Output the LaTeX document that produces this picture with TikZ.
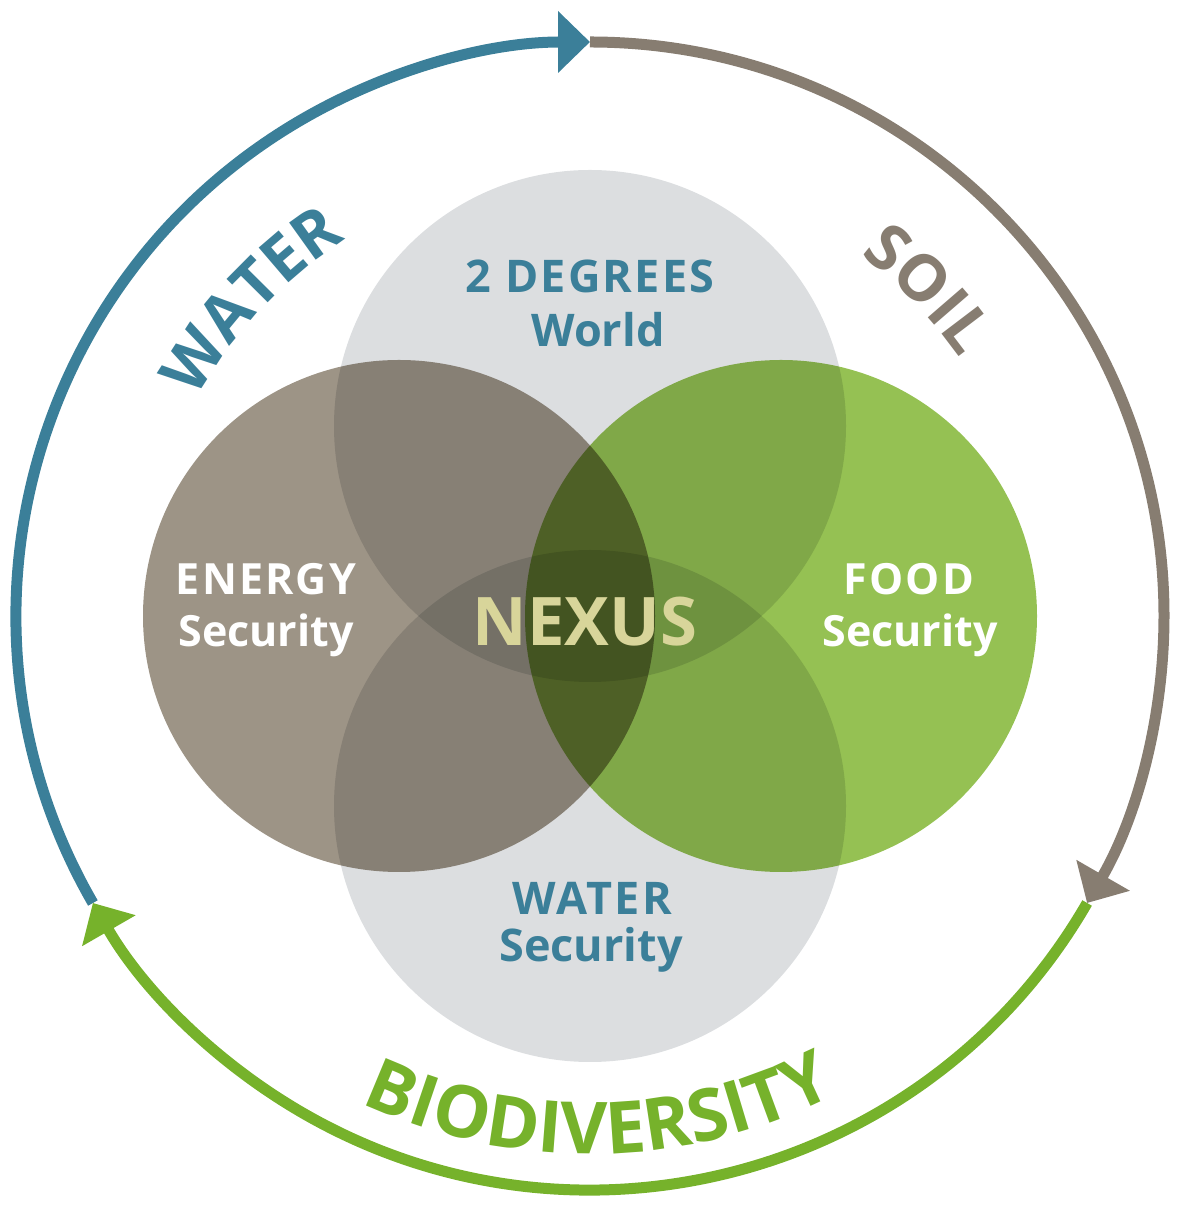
\documentclass[tikz,border=0pt]{standalone}
\usepackage{fontspec}
\setmainfont{Open Sans}
\newfontfamily\capfam{Open Sans}[LetterSpace=5]
\usetikzlibrary{arrows.meta,decorations.text}
\definecolor{ringblue}{RGB}{59,127,153}
\definecolor{ringsoil}{RGB}{135,125,113}
\definecolor{ringgreen}{RGB}{118,178,43}
\definecolor{circgray}{RGB}{220,222,224}
\definecolor{circbrown}{RGB}{157,148,134}
\definecolor{circgreen}{RGB}{149,193,83}
\definecolor{nexuscol}{RGB}{216,213,154}
\newcommand\arcfnt{\bfseries\fontsize{64}{64}\selectfont}
\newcommand\biofnt{\bfseries\fontsize{72}{72}\selectfont}
\tikzset{
  ring/.style={line width=11pt},
  ringtip/.style={-{Triangle[width=60pt,length=32pt]}},
  venn/.style={circle, inner sep=0pt, minimum size=512pt},
  lab/.style={anchor=base, inner sep=0pt, font=\bfseries\fontsize{43}{43}\selectfont},
  caplab/.style={anchor=base, inner sep=0pt, font=\capfam\bfseries\fontsize{43}{43}\selectfont},
  toplab/.style={anchor=base, inner sep=0pt, font=\bfseries\fontsize{45}{45}\selectfont},
  topcap/.style={anchor=base, inner sep=0pt, font=\capfam\bfseries\fontsize{45}{45}\selectfont},
}
\begin{document}
\begin{tikzpicture}[x=1pt,y=1pt]
\useasboundingbox (0,0) rectangle (1180,1208);
\coordinate (O) at (590,592);
% Venn circles
\begin{scope}[blend group=multiply]
  \node[venn, fill=circgray]  (deg)    at (590,782) {};
  \node[venn, fill=circgray]  (water)  at (590,402) {};
  \node[venn, fill=circbrown] (energy) at (399,592) {};
  \node[venn, fill=circgreen] (food)   at (781,592) {};
\end{scope}
% outer ring
\coordinate (pT) at ([shift={(90:574)}]O);
\coordinate (pR) at ([shift={(-30:574)}]O);
\coordinate (pL) at ([shift={(210:574)}]O);
\draw[ring, ringblue, ringtip]  (pL) arc[start angle=210, end angle=90, radius=574];
\draw[ring, ringsoil, ringtip]  (pT) arc[start angle=90, end angle=-30, radius=574];
\draw[ring, ringgreen, ringtip] (pR) arc[start angle=-30, end angle=-150, radius=574];
% ring labels
\path[decorate, decoration={text along path, text align=center,
   text={|\arcfnt\color{ringblue}|WATER}}]
   ([shift={(175:449)}]O) arc[start angle=175, end angle=99, radius=449];
\path[decorate, decoration={text along path, text align=center,
   text={|\arcfnt\color{ringsoil}|SOIL}}]
   ([shift={(82:451)}]O) arc[start angle=82, end angle=6, radius=451];
\path[decorate, decoration={text along path, text align=center,
   text={|\biofnt\color{ringgreen}|BIODIVERSITY}}]
   ([shift={(201:538)}]O) arc[start angle=201, end angle=341, radius=538];
% inner labels
\node[topcap, text=ringblue] (t1) at (590,915) {2 DEGREES};
\node[toplab, text=ringblue] (t2) at (598,861) {World};
\node[caplab, text=white] (e1) at (266,613) {ENERGY};
\node[lab, text=white] (e2) at (266,561) {Security};
\node[caplab, text=white] (f1) at (909,613) {FOOD};
\node[lab, text=white] (f2) at (910,561) {Security};
\node[topcap, text=ringblue] (w1) at (592,293) {WATER};
\node[toplab, text=ringblue] (w2) at (591,246) {Security};
\node[anchor=base, inner sep=0pt, text=nexuscol, font=\bfseries\fontsize{67}{67}\selectfont] (nx) at (585,562) {NEXUS};
\end{tikzpicture}
\end{document}
